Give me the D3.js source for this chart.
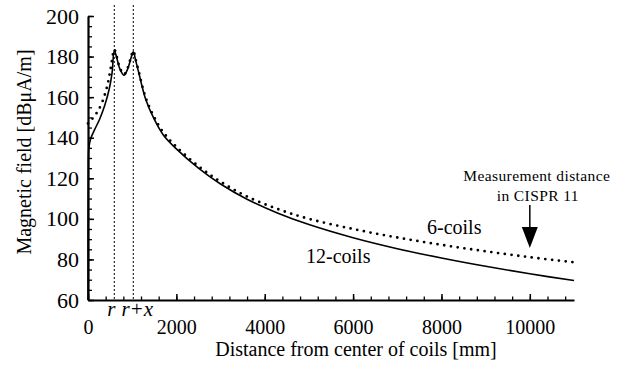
<!DOCTYPE html>
<html>
<head>
<meta charset="utf-8">
<script src="https://cdn.jsdelivr.net/npm/d3@7"></script>
<style>
  html, body { margin: 0; padding: 0; background: #fff; }
  svg { display: block; }
</style>
</head>
<body>
<svg id="chart" width="640" height="365"></svg>
<script>
const FONT = "'Liberation Serif', 'Times New Roman', Times, 'DejaVu Serif', serif";

// Distance from the coil centre [mm]
const distance12 = [0, 6, 20, 60, 150, 260, 380, 480, 545, 595, 650, 720, 815, 900, 970, 1025, 1080, 1155, 1305, 1490, 1700, 2000, 2500, 3000, 3600, 4300, 5000, 6000, 7000, 8000, 9000, 10000, 11000];
// 12-coil field [dBμA/m]
const field12 = [60, 122, 135, 139.5, 144, 149, 156, 164, 172, 183, 179.5, 174, 170.8, 174, 179, 182.3, 178, 171.5, 159, 149.5, 141.5, 134.5, 125, 117.2, 109.7, 102.8, 97.2, 90.7, 85.3, 80.7, 76.6, 72.9, 69.6];

const distance6 = [0, 50, 120, 220, 330, 440, 520, 595, 650, 720, 815, 900, 970, 1025, 1080, 1155, 1305, 1490, 1700, 2000, 2500, 3000, 3600, 4300, 5000, 6000, 7000, 8000, 9000, 10000, 11000];
// 6-coil field [dBμA/m]
const field6 = [147, 148, 150, 153, 158, 166, 175, 183.5, 180, 174.5, 171.2, 174.5, 179.5, 182.8, 178.5, 172, 159.8, 150.5, 142.8, 135.5, 126, 118.3, 111, 104.8, 100, 95, 90.8, 87.2, 84, 81.1, 78.6];

const xTicks = [0, 2000, 4000, 6000, 8000, 10000];
const yTicks = [60, 80, 100, 120, 140, 160, 180, 200];
const markerLines = [{ at: 595, label: "r" }, { at: 1025, label: "r+x" }];
const cisprDistance = 10000;

const svg = d3.select("#chart").style("font-family", FONT);
const x = d3.scaleLinear().domain([0, 11000]).range([88, 574]);
const y = d3.scaleLinear().domain([60, 200]).range([300, 16]);

// vertical dotted guides at r and r+x
svg.selectAll("line.guide").data(markerLines).join("line")
  .attr("class", "guide")
  .attr("x1", d => x(d.at)).attr("x2", d => x(d.at))
  .attr("y1", 5).attr("y2", y(60))
  .attr("stroke", "#000").attr("stroke-width", 1)
  .attr("stroke-dasharray", "2,2");

// minor ticks
const minorX = d3.range(0, 11001, 400);
const minorY = d3.range(60, 201, 5);
svg.append("g").attr("transform", `translate(0,${y(60)})`)
  .call(d3.axisBottom(x).tickValues(minorX).tickSize(-3.5).tickFormat(""))
  .call(g => g.select(".domain").remove())
  .selectAll("line").attr("stroke-width", 1.3);
svg.append("g").attr("transform", `translate(${x(0)},0)`)
  .call(d3.axisLeft(y).tickValues(minorY).tickSize(-4).tickFormat(""))
  .call(g => g.select(".domain").remove())
  .selectAll("line").attr("stroke-width", 1.3);

// major axes
const xAxis = svg.append("g").attr("transform", `translate(0,${y(60)})`)
  .call(d3.axisBottom(x).tickValues(xTicks).tickSizeInner(-6).tickSizeOuter(0)
    .tickPadding(20).tickFormat(d3.format("d")));
xAxis.attr("font-family", FONT).attr("font-size", 20);
xAxis.select(".domain").attr("stroke-width", 2);
xAxis.selectAll("line").attr("stroke-width", 1.5);

const yAxis = svg.append("g").attr("transform", `translate(${x(0)},0)`)
  .call(d3.axisLeft(y).tickValues(yTicks).tickSizeInner(-6).tickSizeOuter(0).tickPadding(9));
yAxis.attr("font-family", FONT).attr("font-size", 22);
yAxis.select(".domain").attr("stroke-width", 2.2);
yAxis.selectAll("line").attr("stroke-width", 1.5);

// r / r+x labels
svg.selectAll("text.mk").data(markerLines).join("text")
  .attr("class", "mk")
  .attr("x", (d, i) => i === 0 ? x(d.at) - 3 : x(d.at) + 4)
  .attr("y", 316)
  .attr("text-anchor", "middle")
  .attr("font-size", 21).attr("font-style", "italic")
  .text(d => d.label);

// curves
const line = d3.line().curve(d3.curveCatmullRom.alpha(0.5)).x(d => x(d[0])).y(d => y(d[1]));
const pts12 = distance12.map((d, i) => [d, field12[i]]);
const pts6 = distance6.map((d, i) => [d, field6[i]]);

svg.append("path").datum(pts6).attr("d", line)
  .attr("fill", "none").attr("stroke", "#000").attr("stroke-width", 2.8)
  .attr("stroke-linecap", "round").attr("stroke-dasharray", "0,6.8");
svg.append("path").datum(pts12).attr("d", line)
  .attr("fill", "none").attr("stroke", "#000").attr("stroke-width", 1.6);

// series labels
svg.append("text").attr("x", 427).attr("y", 234).attr("font-size", 20).text("6-coils");
svg.append("text").attr("x", 306).attr("y", 263).attr("font-size", 20).text("12-coils");

// CISPR 11 annotation
const ax = x(cisprDistance);
svg.append("text").attr("x", ax + 7).attr("y", 181).attr("text-anchor", "middle")
  .attr("font-size", 15.5).attr("letter-spacing", 0.4).text("Measurement distance");
svg.append("text").attr("x", ax + 8).attr("y", 201).attr("text-anchor", "middle")
  .attr("font-size", 15.5).attr("letter-spacing", 0.4).text("in CISPR 11");
svg.append("line").attr("x1", ax).attr("x2", ax).attr("y1", 205).attr("y2", 228)
  .attr("stroke", "#000").attr("stroke-width", 1.5);
svg.append("path")
  .attr("d", `M${ax - 8},227 L${ax + 8},227 L${ax},248 Z`)
  .attr("fill", "#000");

// axis titles
svg.append("text").attr("x", 356).attr("y", 356).attr("text-anchor", "middle")
  .attr("font-size", 20).text("Distance from center of coils [mm]");
svg.append("text").attr("transform", "translate(31,152) rotate(-90)")
  .attr("text-anchor", "middle").attr("font-size", 20).text("Magnetic field [dBμA/m]");
</script>
</body>
</html>
